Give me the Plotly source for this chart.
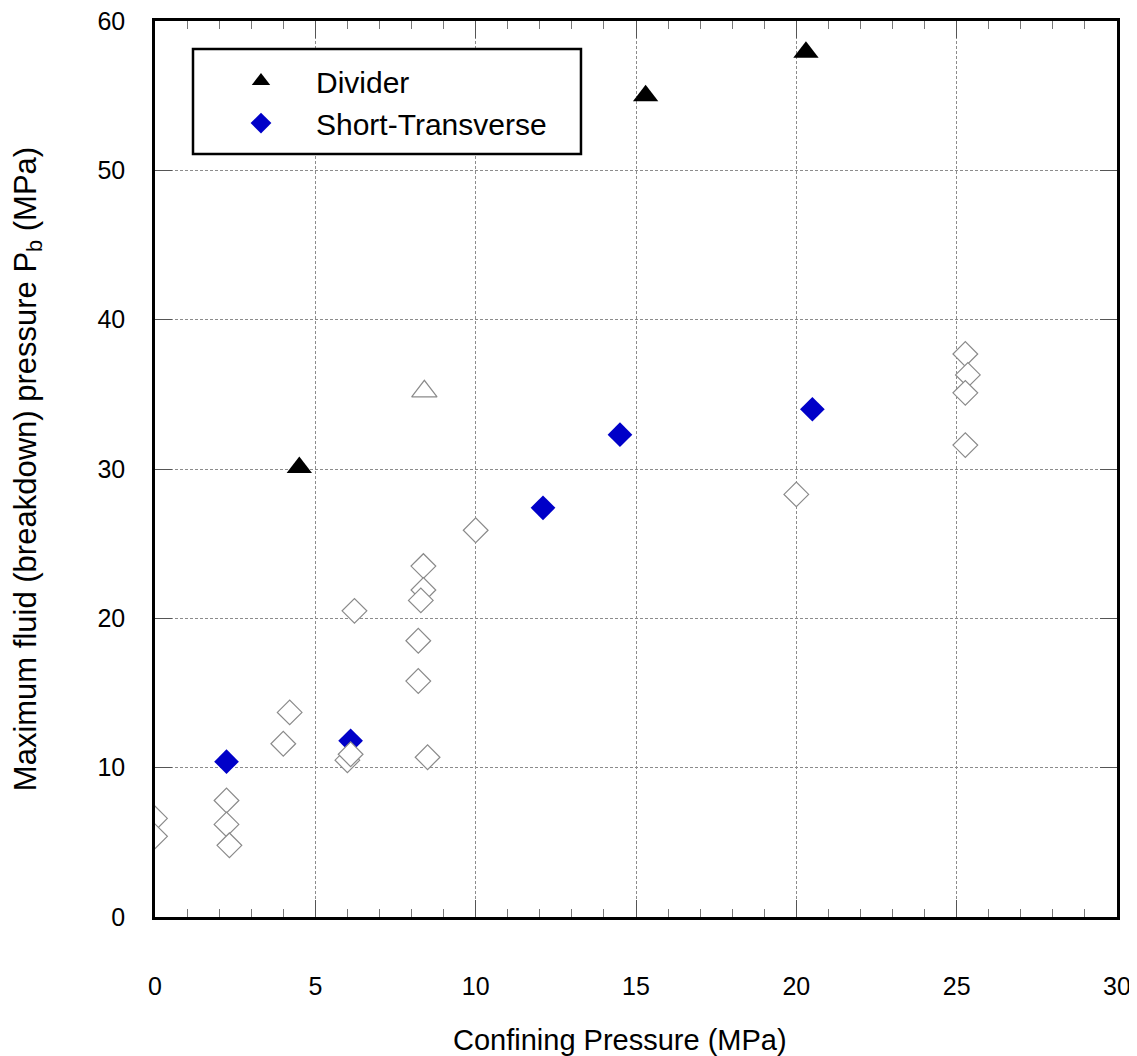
import plotly.graph_objects as go

# Divider (filled black triangles)
div_x = [4.5, 15.3, 20.3]
div_y = [30.1, 55.0, 57.9]

# Short-Transverse (filled blue diamonds)
st_x = [2.23, 6.1, 12.1, 14.5, 20.5]
st_y = [10.4, 11.8, 27.4, 32.3, 34.0]

# Open triangle (other data)
ot_x = [8.4]
ot_y = [35.2]

# Open diamonds (other data)
od_x = [0.0, 0.0, 2.23, 2.23, 2.32, 4.2, 4.0, 6.0, 6.1, 6.22, 8.37, 8.37, 8.29, 8.21, 8.21, 8.5, 10.0,
        25.27, 25.35, 25.27, 25.27, 20.0]
od_y = [6.6, 5.4, 7.8, 6.2, 4.8, 13.7, 11.6, 10.5, 10.9, 20.5, 23.5, 21.9, 21.2, 18.5, 15.8, 10.7, 25.9,
        37.7, 36.3, 35.1, 31.6, 28.3]

x_ticks = [0, 5, 10, 15, 20, 25, 30]
y_ticks = [0, 10, 20, 30, 40, 50, 60]

FONT = "Liberation Sans, Arial, sans-serif"

fig = go.Figure()
fig.add_trace(go.Scatter(x=div_x, y=div_y, mode="markers", name="Divider",
                         marker=dict(symbol="triangle-up", size=22, color="black",
                                     line=dict(width=0))))
fig.add_trace(go.Scatter(x=st_x, y=st_y, mode="markers", name="Short-Transverse",
                         marker=dict(symbol="diamond", size=19, color="#0000C8",
                                     line=dict(width=0))))
fig.add_trace(go.Scatter(x=ot_x, y=ot_y, mode="markers", showlegend=False,
                         marker=dict(symbol="triangle-up", size=22, color="white",
                                     line=dict(width=1.2, color="#8a8a8a"))))
fig.add_trace(go.Scatter(x=od_x, y=od_y, mode="markers", showlegend=False,
                         marker=dict(symbol="diamond", size=19, color="white",
                                     line=dict(width=1.2, color="#8a8a8a"))))

axis_common = dict(
    showline=True, linecolor="black", linewidth=2.5, mirror="ticks",
    ticks="inside", ticklen=17, tickcolor="#555", tickwidth=1,
    showgrid=True, gridcolor="#8c8c8c", gridwidth=1, griddash="3px,2px",
    zeroline=False, ticklabeloverflow="allow",
    tickfont=dict(family=FONT, size=25, color="black"),
)

fig.update_xaxes(
    range=[0, 30], tickvals=x_ticks, ticktext=[str(v) for v in x_ticks],
    minor=dict(dtick=1, ticks="inside", ticklen=8, tickcolor="#777", tickwidth=1, showgrid=False),
    ticklabelstandoff=45,
    **axis_common,
)
fig.update_yaxes(
    range=[0, 60], tickvals=y_ticks, ticktext=[str(v) for v in y_ticks],
    title=dict(text="Maximum fluid (breakdown) pressure P<sub>b</sub> (MPa)",
               font=dict(family=FONT, size=31, color="black"), standoff=56),
    ticklabelstandoff=22,
    **axis_common,
)

# x-axis title (placed slightly left of centre as in the reference)
fig.add_annotation(text="Confining Pressure (MPa)", xref="paper", yref="paper",
                   x=0.4834, y=-0.1373, xanchor="center", yanchor="middle",
                   showarrow=False, font=dict(family=FONT, size=29, color="black"))

# legend frame
fig.add_shape(type="rect", xref="paper", yref="paper",
              x0=0.0395, x1=0.4428, y0=0.8516, y1=0.9688,
              line=dict(color="black", width=2.5), fillcolor="white", layer="above")

fig.update_layout(
    width=1129, height=1048,
    margin=dict(l=147, r=20, t=13, b=139, autoexpand=False),
    plot_bgcolor="white", paper_bgcolor="white",
    font=dict(family=FONT, color="black"),
    legend=dict(x=0.053, y=0.962, xanchor="left", yanchor="top",
                bgcolor="rgba(0,0,0,0)", borderwidth=0,
                font=dict(family=FONT, size=30, color="black"),
                itemsizing="trace", itemwidth=100),
)

fig.write_html("out.html")
